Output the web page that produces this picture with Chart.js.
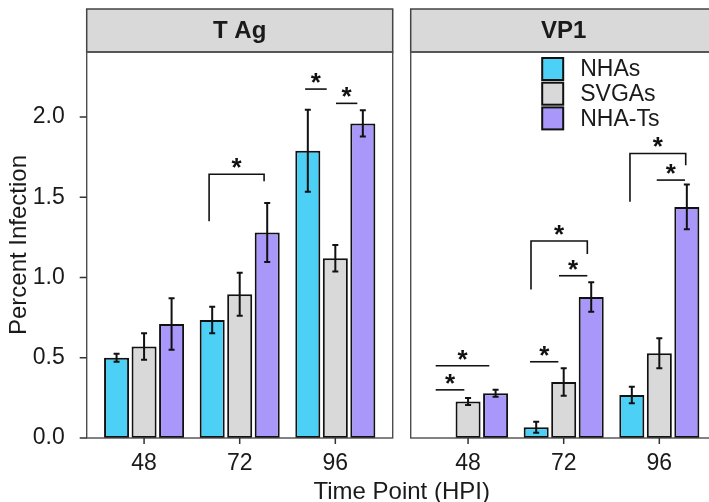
<!DOCTYPE html>
<html><head><meta charset="utf-8">
<script src="https://cdn.jsdelivr.net/npm/chart.js@4.4.1/dist/chart.umd.min.js"></script>
<style>
html,body{margin:0;padding:0;background:#fff;overflow:hidden;width:709px;height:502px;}
#wrap{position:relative;width:709px;height:502px;overflow:hidden;}
canvas{position:absolute;top:0;}
#c1{left:0;}
#c2{left:400px;}
#xtitle{position:absolute;left:201.7px;width:400px;top:478.5px;text-align:center;font:24px 'Liberation Sans',Arial,sans-serif;line-height:24px;color:#1a1a1a;}
</style></head>
<body><div id="wrap">
<canvas id="c1" width="400" height="502"></canvas>
<canvas id="c2" width="317" height="502"></canvas>
<div id="xtitle">Time Point (HPI)</div>
</div>
<script>
// ---- data ----
const timePoints = ['48', '72', '96'];
const seriesNames = ['NHAs', 'SVGAs', 'NHA-Ts'];
const seriesColors = ['#4DD0F6', '#D9D9D9', '#A998FA'];
const yTicks = [0, 0.5, 1.0, 1.5, 2.0];

const tagNHAs = [0.50, 0.735, 1.79];
const tagNHAsSE = [0.025, 0.083, 0.255];
const tagSVGAs = [0.57, 0.895, 1.12];
const tagSVGAsSE = [0.083, 0.134, 0.082];
const tagNHATs = [0.71, 1.28, 1.96];
const tagNHATsSE = [0.16, 0.184, 0.082];

const vp1NHAs = [null, 0.067, 0.268];
const vp1NHAsSE = [null, 0.034, 0.052];
const vp1SVGAs = [0.228, 0.349, 0.528];
const vp1SVGAsSE = [0.022, 0.085, 0.094];
const vp1NHATs = [0.279, 0.879, 1.44];
const vp1NHATsSE = [0.022, 0.092, 0.14];

// significance marks (x in category units, y in data units)
const tagSig = [
  {x1: 1.68, x2: 2.255, y: 1.643, leg1: 1.35, leg2: 1.60},
  {x1: 2.684, x2: 2.91, y: 2.174},
  {x1: 3.007, x2: 3.23, y: 2.085}
];
const vp1Sig = [
  {x1: 0.661, x2: 0.961, y: 0.30},
  {x1: 0.661, x2: 1.222, y: 0.45},
  {x1: 1.648, x2: 1.944, y: 0.475},
  {x1: 1.951, x2: 2.247, y: 1.011},
  {x1: 1.658, x2: 2.247, y: 1.227, leg1: 0.926, leg2: 1.146},
  {x1: 2.693, x2: 3.276, y: 1.773, leg1: 1.472, leg2: 1.70},
  {x1: 2.973, x2: 3.268, y: 1.607}
];

const FONT = "'Liberation Sans', Arial, sans-serif";

function ds(i, vals, se) {
  return {
    label: seriesNames[i],
    data: vals.map((v, j) => ({x: j + 1, y: v})),
    se: se,
    backgroundColor: seriesColors[i],
    borderColor: '#111',
    borderWidth: 2,
    borderSkipped: false,
    categoryPercentage: 0.863,
    barPercentage: 0.91
  };
}

const facetPlugin = {
  id: 'facet',
  afterDraw(chart, args, o) {
    const {ctx, chartArea: a} = chart;
    const xs = chart.scales.x, ys = chart.scales.y;
    ctx.save();
    // strip
    ctx.fillStyle = '#D9D9D9';
    ctx.fillRect(a.left, o.stripTop, a.right - a.left, a.top - o.stripTop);
    ctx.strokeStyle = '#444';
    ctx.lineWidth = 1.5;
    ctx.strokeRect(a.left, o.stripTop, a.right - a.left, a.top - o.stripTop);
    ctx.fillStyle = '#1a1a1a';
    ctx.font = 'bold 24px ' + FONT;
    ctx.textAlign = 'center';
    ctx.textBaseline = 'middle';
    ctx.fillText(o.title, (a.left + a.right) / 2, (o.stripTop + a.top) / 2 + 1);
    // panel border
    ctx.strokeStyle = '#4d4d4d';
    ctx.lineWidth = 1.4;
    ctx.strokeRect(a.left, a.top, a.right - a.left, a.bottom - a.top);
    // tick marks
    ctx.strokeStyle = '#333';
    ctx.lineWidth = 1.5;
    ctx.beginPath();
    xs.ticks.forEach(t => {
      const px = xs.getPixelForValue(t.value);
      ctx.moveTo(px, a.bottom); ctx.lineTo(px, a.bottom + 6);
    });
    if (o.yTicks) {
      ys.ticks.forEach(t => {
        const py = ys.getPixelForValue(t.value);
        ctx.moveTo(a.left - 7, py); ctx.lineTo(a.left, py);
      });
    }
    ctx.stroke();
    ctx.restore();
  }
};

const errPlugin = {
  id: 'errbars',
  afterDatasetsDraw(chart) {
    const {ctx} = chart;
    const ys = chart.scales.y;
    ctx.save();
    ctx.strokeStyle = '#111';
    ctx.lineWidth = 2;
    chart.data.datasets.forEach((d, i) => {
      const meta = chart.getDatasetMeta(i);
      meta.data.forEach((bar, j) => {
        const v = d.data[j].y, e = d.se[j];
        if (v == null || e == null) return;
        const yt = ys.getPixelForValue(v + e), yb = ys.getPixelForValue(v - e);
        const x = bar.x, c = 3;
        ctx.beginPath();
        ctx.moveTo(x, yt); ctx.lineTo(x, yb);
        ctx.moveTo(x - c, yt); ctx.lineTo(x + c, yt);
        ctx.moveTo(x - c, yb); ctx.lineTo(x + c, yb);
        ctx.stroke();
      });
    });
    ctx.restore();
  }
};

const sigPlugin = {
  id: 'sig',
  afterDraw(chart, args, o) {
    const {ctx} = chart;
    const xs = chart.scales.x, ys = chart.scales.y;
    ctx.save();
    ctx.strokeStyle = '#111';
    ctx.lineWidth = 1.6;
    ctx.fillStyle = '#111';
    ctx.font = 'bold 26px ' + FONT;
    ctx.textAlign = 'center';
    ctx.textBaseline = 'alphabetic';
    o.items.forEach(s => {
      const x1 = xs.getPixelForValue(s.x1), x2 = xs.getPixelForValue(s.x2);
      const y = ys.getPixelForValue(s.y);
      ctx.beginPath();
      if (s.leg1 != null) {
        ctx.moveTo(x1, ys.getPixelForValue(s.leg1));
        ctx.lineTo(x1, y);
        ctx.lineTo(x2, y);
        ctx.lineTo(x2, ys.getPixelForValue(s.leg2));
      } else {
        ctx.moveTo(x1, y); ctx.lineTo(x2, y);
      }
      ctx.stroke();
      ctx.fillText('*', (x1 + x2) / 2, y + 2);
    });
    ctx.restore();
  }
};

const legendPlugin = {
  id: 'boxlegend',
  afterDraw(chart, args, o) {
    if (!o.show) return;
    const {ctx, chartArea: a} = chart;
    ctx.save();
    ctx.font = '23px ' + FONT;
    ctx.textAlign = 'left';
    ctx.textBaseline = 'middle';
    chart.data.datasets.forEach((d, i) => {
      const bx = a.left + 131.5, by = a.top + 6 + i * 24.7;
      ctx.fillStyle = d.backgroundColor;
      ctx.fillRect(bx, by, 21, 22);
      ctx.strokeStyle = '#111';
      ctx.lineWidth = 2;
      ctx.strokeRect(bx, by, 21, 22);
      ctx.fillStyle = '#1a1a1a';
      ctx.fillText(d.label, bx + 38, by + 12);
    });
    ctx.restore();
  }
};

function makeChart(id, title, datasets, sig, showY, showLegend, padL, padR) {
  return new Chart(document.getElementById(id), {
    type: 'bar',
    data: {datasets: datasets},
    plugins: [facetPlugin, errPlugin, sigPlugin, legendPlugin],
    options: {
      responsive: false,
      animation: false,
      devicePixelRatio: 1,
      layout: {padding: {top: 52, left: padL, right: padR, bottom: 0}},
      plugins: {
        legend: {display: false},
        tooltip: {enabled: false},
        facet: {title: title, stripTop: 9, yTicks: showY},
        sig: {items: sig},
        boxlegend: {show: showLegend}
      },
      scales: {
        x: {
          type: 'linear', min: 0.4, max: 3.6, offset: false,
          afterBuildTicks: s => { s.ticks = timePoints.map((t, i) => ({value: i + 1})); },
          afterFit: s => { s.height = 64; },
          ticks: {callback: v => timePoints[Math.round(v) - 1], font: {family: FONT, size: 23}, color: '#1a1a1a', padding: 4, maxRotation: 0, autoSkip: false},
          grid: {display: false},
          border: {display: false}
        },
        y: {
          min: 0, max: 2.405, display: showY,
          afterBuildTicks: s => { s.ticks = yTicks.map(v => ({value: v})); },
          afterFit: s => { if (showY) s.width = 86.7; },
          ticks: {callback: v => Number(v).toFixed(1), font: {family: FONT, size: 23}, color: '#1a1a1a', padding: 14},
          grid: {display: false},
          border: {display: false},
          title: {display: showY, text: 'Percent Infection', font: {family: FONT, size: 24}, color: '#1a1a1a', padding: {top: 5, bottom: 0}}
        }
      }
    }
  });
}

makeChart('c1', 'T Ag', [ds(0, tagNHAs, tagNHAsSE), ds(1, tagSVGAs, tagSVGAsSE), ds(2, tagNHATs, tagNHATsSE)], tagSig, true, false, 0, 7.3);
makeChart('c2', 'VP1', [ds(0, vp1NHAs, vp1NHAsSE), ds(1, vp1SVGAs, vp1SVGAsSE), ds(2, vp1NHATs, vp1NHATsSE)], vp1Sig, false, true, 10.7, 0.3);
</script>
</body></html>
